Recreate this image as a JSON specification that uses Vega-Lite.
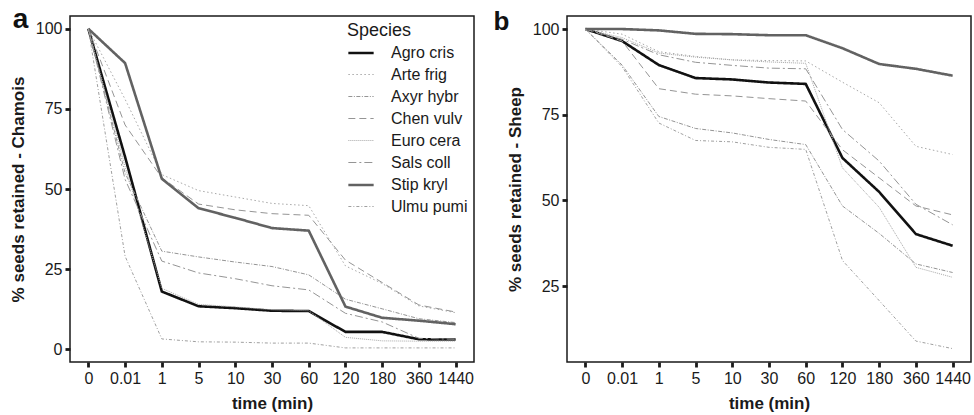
{
  "$schema": "https://vega.github.io/schema/vega-lite/v6.json",
  "padding": {"left": 8, "top": 5, "right": 0, "bottom": 0},
  "spacing": 17,
  "data": {"values": [
    {"panel":"a","species":"Agro cris","time":"0","pct":100},{"panel":"a","species":"Agro cris","time":"0.01","pct":60},{"panel":"a","species":"Agro cris","time":"1","pct":18.0},{"panel":"a","species":"Agro cris","time":"5","pct":13.4},{"panel":"a","species":"Agro cris","time":"10","pct":12.8},{"panel":"a","species":"Agro cris","time":"30","pct":12.0},{"panel":"a","species":"Agro cris","time":"60","pct":11.9},{"panel":"a","species":"Agro cris","time":"120","pct":5.4},{"panel":"a","species":"Agro cris","time":"180","pct":5.4},{"panel":"a","species":"Agro cris","time":"360","pct":3.1},{"panel":"a","species":"Agro cris","time":"1440","pct":3.0},
    {"panel":"a","species":"Arte frig","time":"0","pct":100},{"panel":"a","species":"Arte frig","time":"0.01","pct":78},{"panel":"a","species":"Arte frig","time":"1","pct":54.5},{"panel":"a","species":"Arte frig","time":"5","pct":49.5},{"panel":"a","species":"Arte frig","time":"10","pct":47.5},{"panel":"a","species":"Arte frig","time":"30","pct":45.5},{"panel":"a","species":"Arte frig","time":"60","pct":44.8},{"panel":"a","species":"Arte frig","time":"120","pct":26},{"panel":"a","species":"Arte frig","time":"180","pct":20.5},{"panel":"a","species":"Arte frig","time":"360","pct":13.5},{"panel":"a","species":"Arte frig","time":"1440","pct":11.4},
    {"panel":"a","species":"Axyr hybr","time":"0","pct":100},{"panel":"a","species":"Axyr hybr","time":"0.01","pct":55},{"panel":"a","species":"Axyr hybr","time":"1","pct":30.6},{"panel":"a","species":"Axyr hybr","time":"5","pct":28.8},{"panel":"a","species":"Axyr hybr","time":"10","pct":27.2},{"panel":"a","species":"Axyr hybr","time":"30","pct":25.8},{"panel":"a","species":"Axyr hybr","time":"60","pct":23.2},{"panel":"a","species":"Axyr hybr","time":"120","pct":15.6},{"panel":"a","species":"Axyr hybr","time":"180","pct":12.6},{"panel":"a","species":"Axyr hybr","time":"360","pct":9.5},{"panel":"a","species":"Axyr hybr","time":"1440","pct":8.3},
    {"panel":"a","species":"Chen vulv","time":"0","pct":100},{"panel":"a","species":"Chen vulv","time":"0.01","pct":70},{"panel":"a","species":"Chen vulv","time":"1","pct":53.5},{"panel":"a","species":"Chen vulv","time":"5","pct":45.3},{"panel":"a","species":"Chen vulv","time":"10","pct":43.5},{"panel":"a","species":"Chen vulv","time":"30","pct":42.3},{"panel":"a","species":"Chen vulv","time":"60","pct":41.8},{"panel":"a","species":"Chen vulv","time":"120","pct":27.8},{"panel":"a","species":"Chen vulv","time":"180","pct":20.8},{"panel":"a","species":"Chen vulv","time":"360","pct":13.8},{"panel":"a","species":"Chen vulv","time":"1440","pct":11.6},
    {"panel":"a","species":"Euro cera","time":"0","pct":100},{"panel":"a","species":"Euro cera","time":"0.01","pct":57},{"panel":"a","species":"Euro cera","time":"1","pct":19},{"panel":"a","species":"Euro cera","time":"5","pct":14},{"panel":"a","species":"Euro cera","time":"10","pct":13.2},{"panel":"a","species":"Euro cera","time":"30","pct":12.3},{"panel":"a","species":"Euro cera","time":"60","pct":12.0},{"panel":"a","species":"Euro cera","time":"120","pct":3.7},{"panel":"a","species":"Euro cera","time":"180","pct":2.6},{"panel":"a","species":"Euro cera","time":"360","pct":2.5},{"panel":"a","species":"Euro cera","time":"1440","pct":2.5},
    {"panel":"a","species":"Sals coll","time":"0","pct":100},{"panel":"a","species":"Sals coll","time":"0.01","pct":53},{"panel":"a","species":"Sals coll","time":"1","pct":27.5},{"panel":"a","species":"Sals coll","time":"5","pct":23.8},{"panel":"a","species":"Sals coll","time":"10","pct":22.0},{"panel":"a","species":"Sals coll","time":"30","pct":19.8},{"panel":"a","species":"Sals coll","time":"60","pct":18.5},{"panel":"a","species":"Sals coll","time":"120","pct":11.2},{"panel":"a","species":"Sals coll","time":"180","pct":8.5},{"panel":"a","species":"Sals coll","time":"360","pct":3.4},{"panel":"a","species":"Sals coll","time":"1440","pct":3.1},
    {"panel":"a","species":"Stip kryl","time":"0","pct":100},{"panel":"a","species":"Stip kryl","time":"0.01","pct":89.3},{"panel":"a","species":"Stip kryl","time":"1","pct":53.2},{"panel":"a","species":"Stip kryl","time":"5","pct":44.0},{"panel":"a","species":"Stip kryl","time":"10","pct":41.0},{"panel":"a","species":"Stip kryl","time":"30","pct":37.8},{"panel":"a","species":"Stip kryl","time":"60","pct":37.0},{"panel":"a","species":"Stip kryl","time":"120","pct":13.3},{"panel":"a","species":"Stip kryl","time":"180","pct":9.8},{"panel":"a","species":"Stip kryl","time":"360","pct":8.9},{"panel":"a","species":"Stip kryl","time":"1440","pct":7.8},
    {"panel":"a","species":"Ulmu pumi","time":"0","pct":100},{"panel":"a","species":"Ulmu pumi","time":"0.01","pct":29},{"panel":"a","species":"Ulmu pumi","time":"1","pct":3.2},{"panel":"a","species":"Ulmu pumi","time":"5","pct":2.3},{"panel":"a","species":"Ulmu pumi","time":"10","pct":2.2},{"panel":"a","species":"Ulmu pumi","time":"30","pct":1.9},{"panel":"a","species":"Ulmu pumi","time":"60","pct":1.9},{"panel":"a","species":"Ulmu pumi","time":"120","pct":0.4},{"panel":"a","species":"Ulmu pumi","time":"180","pct":0.4},{"panel":"a","species":"Ulmu pumi","time":"360","pct":0.4},{"panel":"a","species":"Ulmu pumi","time":"1440","pct":0.4},
    {"panel":"b","species":"Agro cris","time":"0","pct":100},{"panel":"b","species":"Agro cris","time":"0.01","pct":96.5},{"panel":"b","species":"Agro cris","time":"1","pct":89.5},{"panel":"b","species":"Agro cris","time":"5","pct":85.7},{"panel":"b","species":"Agro cris","time":"10","pct":85.3},{"panel":"b","species":"Agro cris","time":"30","pct":84.4},{"panel":"b","species":"Agro cris","time":"60","pct":84.0},{"panel":"b","species":"Agro cris","time":"120","pct":62.4},{"panel":"b","species":"Agro cris","time":"180","pct":52.5},{"panel":"b","species":"Agro cris","time":"360","pct":40.2},{"panel":"b","species":"Agro cris","time":"1440","pct":36.8},
    {"panel":"b","species":"Arte frig","time":"0","pct":100},{"panel":"b","species":"Arte frig","time":"0.01","pct":98.5},{"panel":"b","species":"Arte frig","time":"1","pct":93.4},{"panel":"b","species":"Arte frig","time":"5","pct":92.0},{"panel":"b","species":"Arte frig","time":"10","pct":91.0},{"panel":"b","species":"Arte frig","time":"30","pct":90.8},{"panel":"b","species":"Arte frig","time":"60","pct":90.7},{"panel":"b","species":"Arte frig","time":"120","pct":84.5},{"panel":"b","species":"Arte frig","time":"180","pct":78.5},{"panel":"b","species":"Arte frig","time":"360","pct":65.8},{"panel":"b","species":"Arte frig","time":"1440","pct":63.4},
    {"panel":"b","species":"Axyr hybr","time":"0","pct":100},{"panel":"b","species":"Axyr hybr","time":"0.01","pct":89.5},{"panel":"b","species":"Axyr hybr","time":"1","pct":74.5},{"panel":"b","species":"Axyr hybr","time":"5","pct":71.0},{"panel":"b","species":"Axyr hybr","time":"10","pct":69.7},{"panel":"b","species":"Axyr hybr","time":"30","pct":67.8},{"panel":"b","species":"Axyr hybr","time":"60","pct":66.3},{"panel":"b","species":"Axyr hybr","time":"120","pct":48.4},{"panel":"b","species":"Axyr hybr","time":"180","pct":40.4},{"panel":"b","species":"Axyr hybr","time":"360","pct":31.5},{"panel":"b","species":"Axyr hybr","time":"1440","pct":29.0},
    {"panel":"b","species":"Chen vulv","time":"0","pct":100},{"panel":"b","species":"Chen vulv","time":"0.01","pct":96.5},{"panel":"b","species":"Chen vulv","time":"1","pct":82.6},{"panel":"b","species":"Chen vulv","time":"5","pct":81.0},{"panel":"b","species":"Chen vulv","time":"10","pct":80.5},{"panel":"b","species":"Chen vulv","time":"30","pct":79.7},{"panel":"b","species":"Chen vulv","time":"60","pct":79.0},{"panel":"b","species":"Chen vulv","time":"120","pct":64.8},{"panel":"b","species":"Chen vulv","time":"180","pct":56.6},{"panel":"b","species":"Chen vulv","time":"360","pct":48.4},{"panel":"b","species":"Chen vulv","time":"1440","pct":45.8},
    {"panel":"b","species":"Euro cera","time":"0","pct":100},{"panel":"b","species":"Euro cera","time":"0.01","pct":97.5},{"panel":"b","species":"Euro cera","time":"1","pct":93.0},{"panel":"b","species":"Euro cera","time":"5","pct":91.8},{"panel":"b","species":"Euro cera","time":"10","pct":91.0},{"panel":"b","species":"Euro cera","time":"30","pct":90.4},{"panel":"b","species":"Euro cera","time":"60","pct":90.0},{"panel":"b","species":"Euro cera","time":"120","pct":59.5},{"panel":"b","species":"Euro cera","time":"180","pct":48.0},{"panel":"b","species":"Euro cera","time":"360","pct":30.5},{"panel":"b","species":"Euro cera","time":"1440","pct":27.6},
    {"panel":"b","species":"Sals coll","time":"0","pct":100},{"panel":"b","species":"Sals coll","time":"0.01","pct":97},{"panel":"b","species":"Sals coll","time":"1","pct":92.5},{"panel":"b","species":"Sals coll","time":"5","pct":90.3},{"panel":"b","species":"Sals coll","time":"10","pct":89.4},{"panel":"b","species":"Sals coll","time":"30","pct":88.6},{"panel":"b","species":"Sals coll","time":"60","pct":88.4},{"panel":"b","species":"Sals coll","time":"120","pct":70.7},{"panel":"b","species":"Sals coll","time":"180","pct":61.5},{"panel":"b","species":"Sals coll","time":"360","pct":48.9},{"panel":"b","species":"Sals coll","time":"1440","pct":42.9},
    {"panel":"b","species":"Stip kryl","time":"0","pct":100},{"panel":"b","species":"Stip kryl","time":"0.01","pct":100},{"panel":"b","species":"Stip kryl","time":"1","pct":99.6},{"panel":"b","species":"Stip kryl","time":"5","pct":98.6},{"panel":"b","species":"Stip kryl","time":"10","pct":98.5},{"panel":"b","species":"Stip kryl","time":"30","pct":98.2},{"panel":"b","species":"Stip kryl","time":"60","pct":98.2},{"panel":"b","species":"Stip kryl","time":"120","pct":94.4},{"panel":"b","species":"Stip kryl","time":"180","pct":89.8},{"panel":"b","species":"Stip kryl","time":"360","pct":88.4},{"panel":"b","species":"Stip kryl","time":"1440","pct":86.4},
    {"panel":"b","species":"Ulmu pumi","time":"0","pct":100},{"panel":"b","species":"Ulmu pumi","time":"0.01","pct":89},{"panel":"b","species":"Ulmu pumi","time":"1","pct":72.6},{"panel":"b","species":"Ulmu pumi","time":"5","pct":67.5},{"panel":"b","species":"Ulmu pumi","time":"10","pct":67.1},{"panel":"b","species":"Ulmu pumi","time":"30","pct":65.5},{"panel":"b","species":"Ulmu pumi","time":"60","pct":64.9},{"panel":"b","species":"Ulmu pumi","time":"120","pct":32.5},{"panel":"b","species":"Ulmu pumi","time":"180","pct":20.8},{"panel":"b","species":"Ulmu pumi","time":"360","pct":9.0},{"panel":"b","species":"Ulmu pumi","time":"1440","pct":6.8}
  ]},
  "resolve": {
    "scale": {"color": "independent", "strokeDash": "independent", "strokeWidth": "independent"},
    "legend": {"color": "independent", "strokeDash": "independent", "strokeWidth": "independent"}
  },
  "hconcat": [
    {
      "width": 404, "height": 346,
      "title": {"text": "a", "orient": "left", "anchor": "end", "angle": 0, "align": "left", "baseline": "top", "fontSize": 28, "fontWeight": "bold", "font": "Liberation Sans", "color": "#111", "offset": -19, "dy": -10},
      "transform": [{"filter": "datum.panel == 'a'"}],
      "mark": {"type": "line"},
      "encoding": {
        "x": {"field": "time", "type": "ordinal", "sort": ["0","0.01","1","5","10","30","60","120","180","360","1440"], "scale": {"type": "point", "padding": 0.5}, "axis": {"title": "time (min)", "labelAngle": 0}},
        "y": {"field": "pct", "type": "quantitative", "scale": {"domain": [-4, 104], "nice": false, "zero": false}, "axis": {"values": [0, 25, 50, 75, 100], "title": "% seeds retained - Chamois"}},
        "color": {"field": "species", "type": "nominal", "scale": {"domain": ["Agro cris","Arte frig","Axyr hybr","Chen vulv","Euro cera","Sals coll","Stip kryl","Ulmu pumi"], "range": ["#111111","#a8a8a8","#959595","#959595","#a8a8a8","#959595","#626262","#a0a0a0"]},
          "legend": {"orient": "none", "legendX": 277, "legendY": 6, "title": "Species", "symbolType": "stroke", "symbolSize": 640}},
        "strokeDash": {"field": "species", "type": "nominal", "scale": {"domain": ["Agro cris","Arte frig","Axyr hybr","Chen vulv","Euro cera","Sals coll","Stip kryl","Ulmu pumi"], "range": [[1,0],[1.5,2.5],[4,1.5,1,1.5],[7,4],[1,1],[8,3,2,3],[1,0],[3,2,1,2]]},
          "legend": {"orient": "none", "legendX": 277, "legendY": 6, "title": "Species", "symbolType": "stroke", "symbolSize": 640}},
        "strokeWidth": {"field": "species", "type": "nominal", "scale": {"type": "ordinal", "domain": ["Agro cris","Arte frig","Axyr hybr","Chen vulv","Euro cera","Sals coll","Stip kryl","Ulmu pumi"], "range": [2.6,1,1,1,1,1,2.6,1]},
          "legend": {"orient": "none", "legendX": 277, "legendY": 6, "title": "Species", "symbolType": "stroke", "symbolSize": 640}}
      }
    },
    {
      "width": 404, "height": 346,
      "title": {"text": "b", "orient": "left", "anchor": "end", "angle": 0, "align": "left", "baseline": "top", "fontSize": 26, "fontWeight": "bold", "font": "Liberation Sans", "color": "#111", "offset": -3, "dy": -7},
      "transform": [{"filter": "datum.panel == 'b'"}],
      "mark": {"type": "line"},
      "encoding": {
        "x": {"field": "time", "type": "ordinal", "sort": ["0","0.01","1","5","10","30","60","120","180","360","1440"], "scale": {"type": "point", "padding": 0.5}, "axis": {"title": "time (min)", "labelAngle": 0}},
        "y": {"field": "pct", "type": "quantitative", "scale": {"domain": [2.9, 103.8], "nice": false, "zero": false}, "axis": {"values": [25, 50, 75, 100], "title": "% seeds retained - Sheep"}},
        "color": {"field": "species", "type": "nominal", "scale": {"domain": ["Agro cris","Arte frig","Axyr hybr","Chen vulv","Euro cera","Sals coll","Stip kryl","Ulmu pumi"], "range": ["#111111","#a8a8a8","#959595","#959595","#a8a8a8","#959595","#626262","#a0a0a0"]}, "legend": null},
        "strokeDash": {"field": "species", "type": "nominal", "scale": {"domain": ["Agro cris","Arte frig","Axyr hybr","Chen vulv","Euro cera","Sals coll","Stip kryl","Ulmu pumi"], "range": [[1,0],[1.5,2.5],[4,1.5,1,1.5],[7,4],[1,1],[8,3,2,3],[1,0],[3,2,1,2]]}, "legend": null},
        "strokeWidth": {"field": "species", "type": "nominal", "scale": {"type": "ordinal", "domain": ["Agro cris","Arte frig","Axyr hybr","Chen vulv","Euro cera","Sals coll","Stip kryl","Ulmu pumi"], "range": [2.6,1,1,1,1,1,2.6,1]}, "legend": null}
      }
    }
  ],
  "config": {
    "background": "white",
    "view": {"stroke": "#1a1a1a", "strokeWidth": 1.5},
    "axis": {"grid": false, "domain": false, "tickColor": "#1a1a1a", "tickWidth": 2.8, "tickSize": 5, "labelFont": "Liberation Sans", "labelFontSize": 16, "labelColor": "#1a1a1a", "labelPadding": 3, "titleFont": "Liberation Sans", "titleFontSize": 17, "titleFontWeight": "bold", "titleColor": "#1a1a1a"},
    "axisX": {"titlePadding": 9},
    "axisY": {"titlePadding": 8},
    "legend": {"titleFont": "Liberation Sans", "titleFontSize": 18, "titleFontWeight": "normal", "titleColor": "#1a1a1a", "labelFont": "Liberation Sans", "labelFontSize": 16, "labelColor": "#1a1a1a", "labelOffset": 16, "rowPadding": -6, "titlePadding": -1}
  }
}
